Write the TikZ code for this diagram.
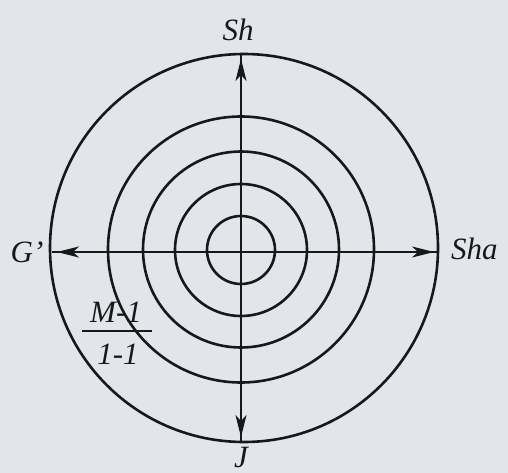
\documentclass[tikz,border=0pt]{standalone}
\usepackage{fontspec}
\setmainfont{Liberation Serif}
\usetikzlibrary{arrows.meta}
\definecolor{paper}{RGB}{226,229,234}
\definecolor{ink}{RGB}{24,24,26}
\tikzset{
  ring/.style={draw=ink, line width=2.6pt},
  axis/.style={draw=ink, line width=1.9pt},
  tips/.style={{Stealth[length=22pt,width=11pt,inset=6pt]}-{Stealth[length=22pt,width=11pt,inset=6pt]}, shorten <=5pt, shorten >=5pt},
  lbl/.style={font=\fontsize{31}{37}\selectfont\itshape, text=ink, inner sep=0pt},
}
\begin{document}
\begin{tikzpicture}[x=1pt,y=-1pt]
\fill[paper] (0,0) rectangle (508,473);
\useasboundingbox (0,0) rectangle (508,473);
% circles
\draw[ring] (244,248) circle[radius=194];
\draw[ring] (241,249.5) circle[radius=133];
\draw[ring] (241,249.5) circle[radius=98];
\draw[ring] (241,250) circle[radius=66];
\draw[ring] (241,250) circle[radius=34];
% axis end points
\coordinate (W) at (52,252);
\coordinate (E) at (439,252);
\coordinate (N) at (241,54);
\coordinate (S) at (241,442);
\draw[axis] (W) -- (E);
\draw[axis] (N) -- (S);
\draw[axis,tips] (W) -- (E);
\draw[axis,tips] (S) -- (N);
% labels
\node[lbl] (sh) at (238,30) {Sh};
\node[lbl,anchor=west] (sha) at (451,249) {Sha};
\node[lbl] (g) at (27,252) {G'};
\node[lbl,anchor=north] (j) at (241,446.5) {J};
% fraction
\node[lbl] (num) at (116,312) {M-1};
\node[lbl] (den) at (118,354) {1-1};
\coordinate (barL) at (82,331);
\coordinate (barR) at (152,331);
\draw[ink, line width=2.2pt] (barL) -- (barR);
\end{tikzpicture}
\end{document}
